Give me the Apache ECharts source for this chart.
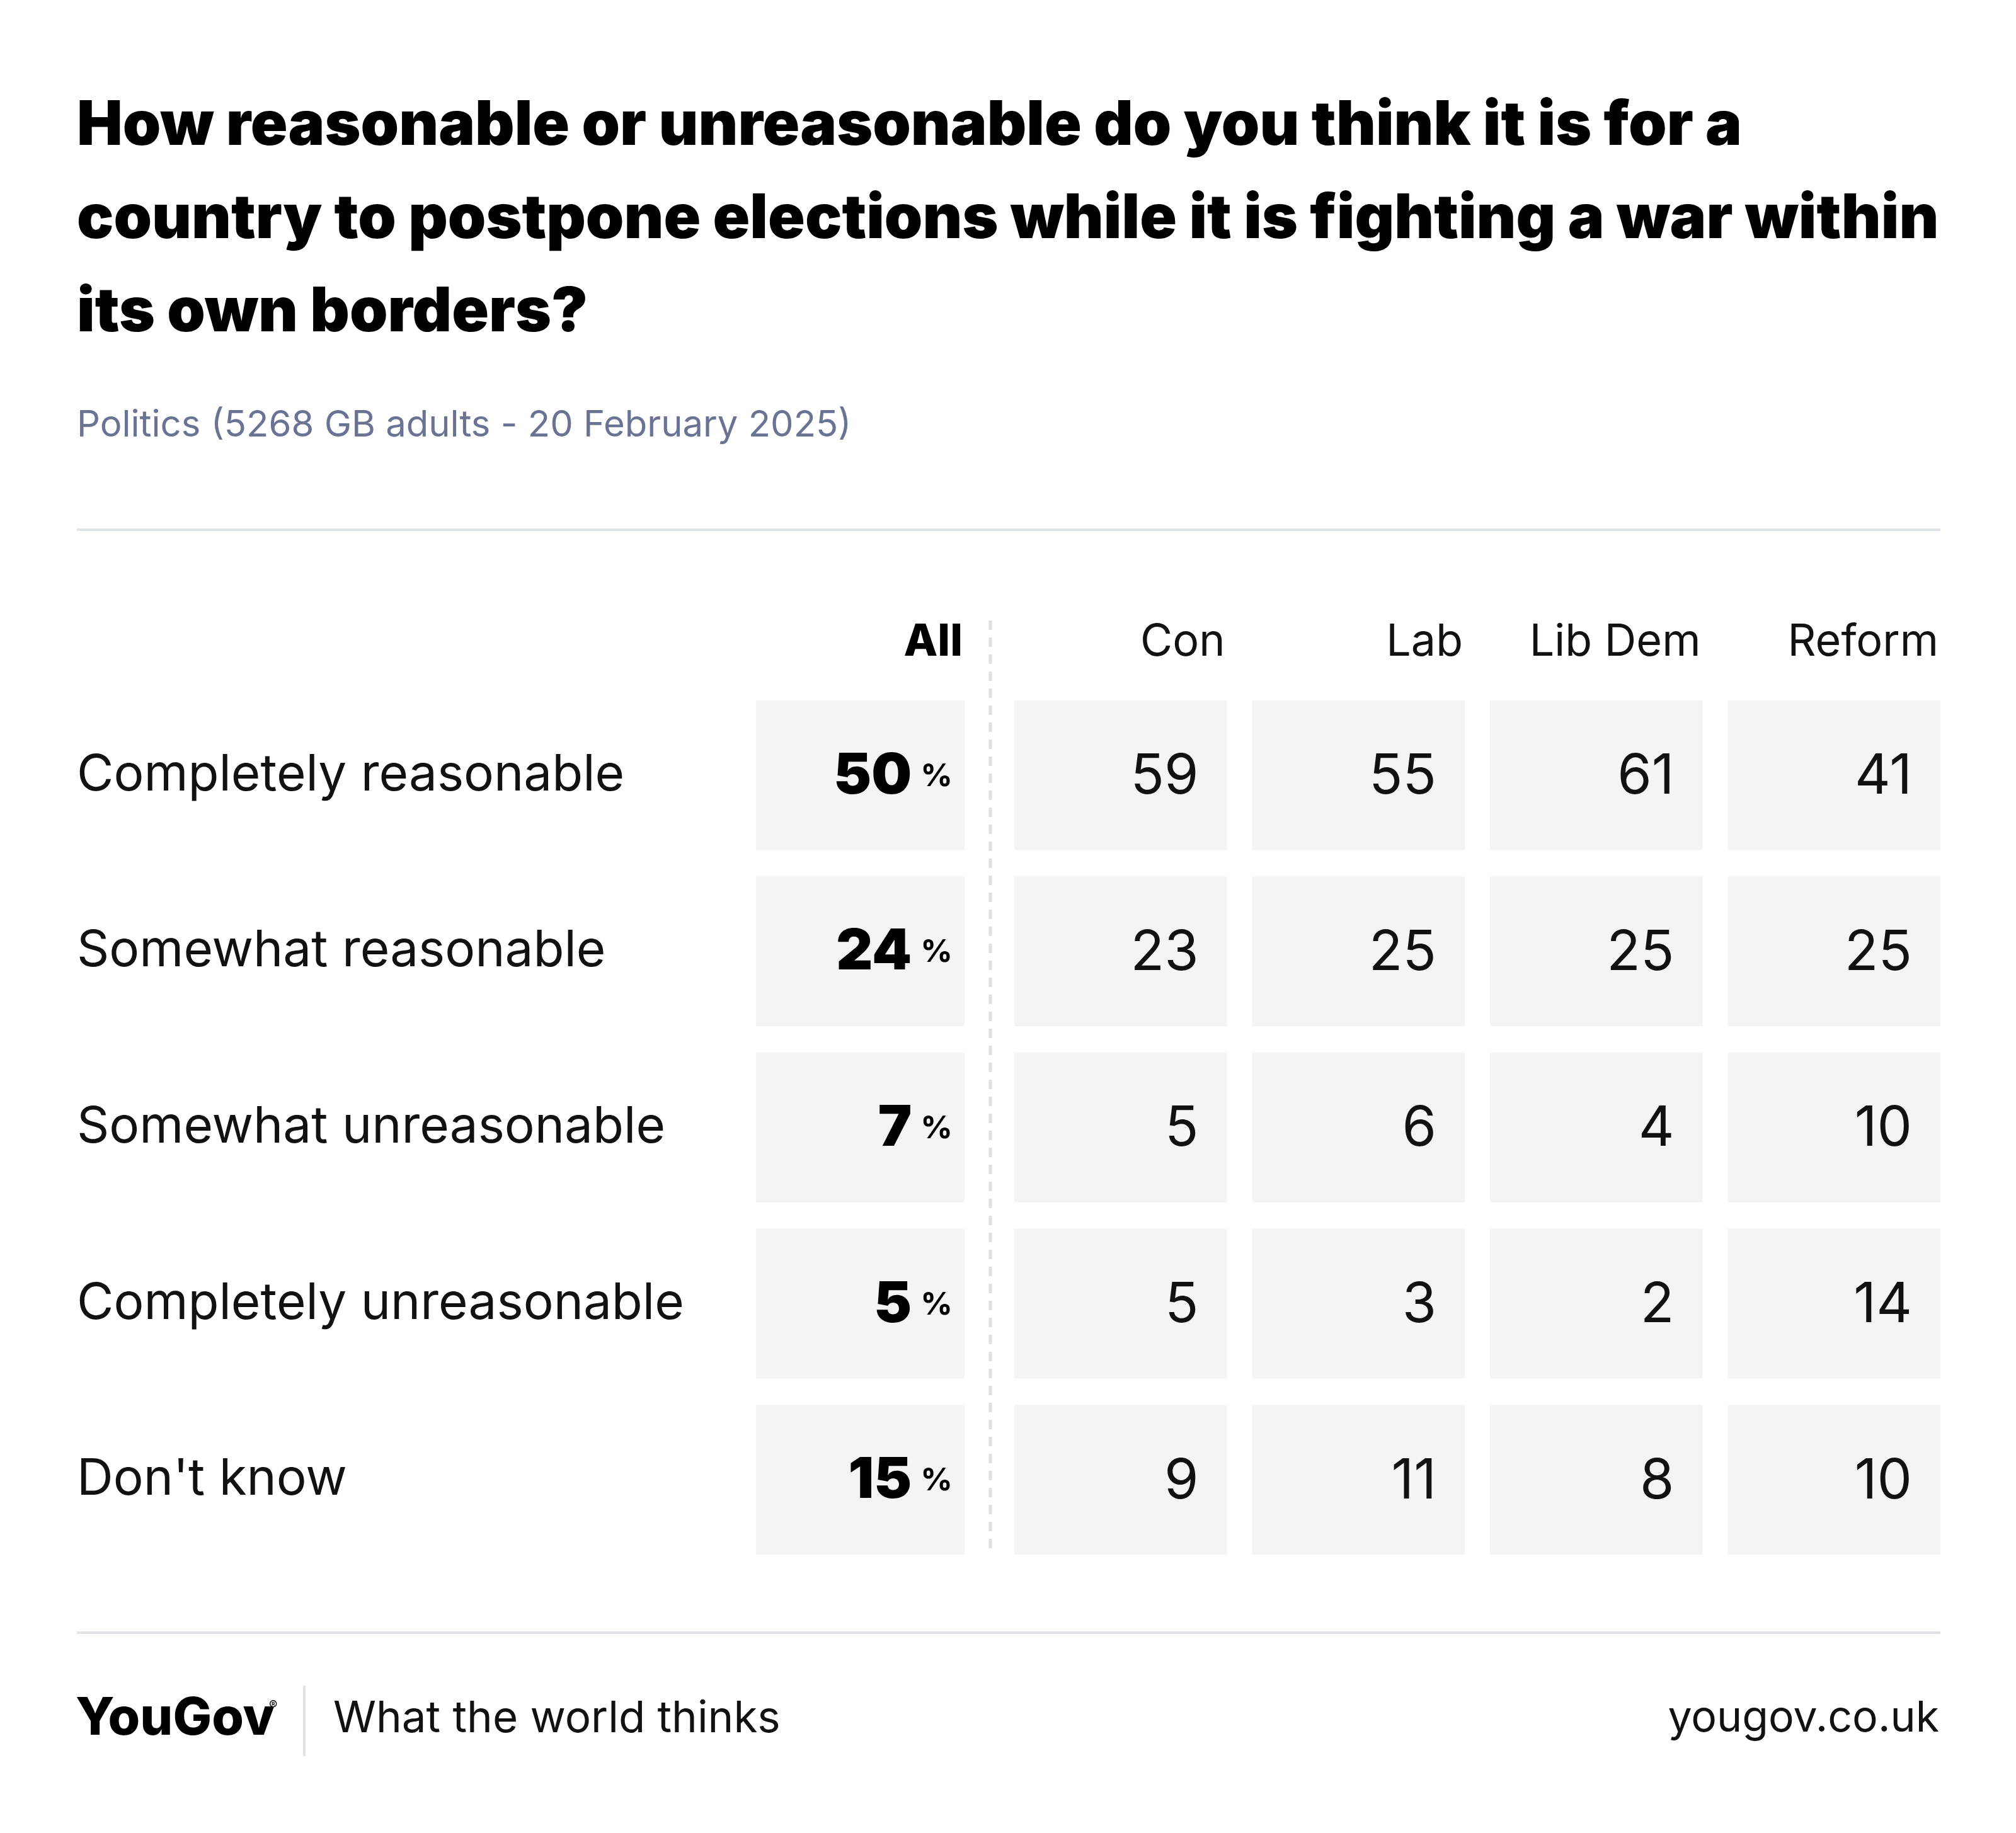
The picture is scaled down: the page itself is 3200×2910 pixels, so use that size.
<!DOCTYPE html>
<html><head><meta charset="utf-8">
<script src="https://cdn.jsdelivr.net/npm/echarts@6/dist/echarts.min.js"></script>
<style>html,body{margin:0;padding:0;background:#fff}#c{width:3200px;height:2910px}</style>
</head><body><div id="c"></div>
<script>
// ---- data ----
const TITLE_LINES = [
  'How reasonable or unreasonable do you think it is for a',
  'country to postpone elections while it is fighting a war within',
  'its own borders?'
];
const SUBTITLE = 'Politics (5268 GB adults - 20 February 2025)';
const ROWS = ['Completely reasonable', 'Somewhat reasonable', 'Somewhat unreasonable', 'Completely unreasonable', "Don't know"];
const ALL_LABEL = 'All';
const PARTIES = ['Con', 'Lab', 'Lib Dem', 'Reform'];
const ALL = [50, 24, 7, 5, 15];
const CON = [59, 23, 5, 5, 9];
const LAB = [55, 25, 6, 3, 11];
const LIBDEM = [61, 25, 4, 2, 8];
const REFORM = [41, 25, 10, 14, 10];
const FOOT_LEFT = 'What the world thinks';
const FOOT_RIGHT = 'yougov.co.uk';

// ---- build ----
const FONT = 'Inter, "Noto Sans", sans-serif';
const CELL_BG = '#f3f4f6';
const GAP_X = 40, GAP_Y = 42;
const partyCols = [CON, LAB, LIBDEM, REFORM];
const allData = ALL.map((v, r) => [0, r, v]);
const partyData = [];
partyCols.forEach((col, c) => col.forEach((v, r) => partyData.push([c, r, v])));

function cellBox(api) {
  const c = api.coord([api.value(0), api.value(1)]);
  const s = api.size([1, 1]);
  const w = s[0] - GAP_X, h = s[1] - GAP_Y;
  return { x: c[0] - w / 2, y: c[1] - h / 2, w, h, cy: c[1] };
}

function renderAll(params, api) {
  const b = cellBox(api);
  const kids = [
    { type: 'rect', shape: { x: b.x, y: b.y, width: b.w, height: b.h }, style: { fill: CELL_BG } },
    { type: 'text', style: {
        x: b.x + b.w - 19, y: b.cy + 2, align: 'right', verticalAlign: 'middle',
        text: '{n|' + api.value(2) + '}{p|%}',
        rich: {
          n: { fontFamily: FONT, fontWeight: 900, fontSize: 90, fill: '#000', verticalAlign: 'middle' },
          p: { fontFamily: FONT, fontWeight: 700, fontSize: 50, fill: '#000', padding: [0, 0, 0, 14], verticalAlign: 'middle' }
        }
      } }
  ];
  if (api.value(1) === 0) {
    kids.push({ type: 'text', style: { x: b.x + b.w - 3, y: b.y - 92, align: 'right', verticalAlign: 'middle',
      text: ALL_LABEL, fontFamily: FONT, fontWeight: 800, fontSize: 70, fill: '#000' } });
  }
  return { type: 'group', children: kids };
}

function renderParty(params, api) {
  const b = cellBox(api);
  const kids = [
    { type: 'rect', shape: { x: b.x, y: b.y, width: b.w, height: b.h }, style: { fill: CELL_BG } },
    { type: 'text', style: {
        x: b.x + b.w - 45, y: b.cy + 3, align: 'right', verticalAlign: 'middle',
        text: String(api.value(2)), fontFamily: FONT, fontWeight: 400, fontSize: 88, fill: '#111'
      } }
  ];
  if (api.value(1) === 0) {
    kids.push({ type: 'text', style: { x: b.x + b.w - 3, y: b.y - 92, align: 'right', verticalAlign: 'middle',
      text: PARTIES[api.value(0)], fontFamily: FONT, fontWeight: 400, fontSize: 70, fill: '#111' } });
  }
  return { type: 'group', children: kids };
}

const hidden = { axisLine: { show: false }, axisTick: { show: false }, splitLine: { show: false } };

const option = {
  backgroundColor: '#ffffff',
  animation: false,
  grid: [
    { left: 1180, top: 1091, width: 371, height: 1398 },
    { left: 1590, top: 1091, width: 1510, height: 1398 }
  ],
  xAxis: [
    Object.assign({ type: 'category', gridIndex: 0, data: [ALL_LABEL], axisLabel: { show: false } }, hidden),
    Object.assign({ type: 'category', gridIndex: 1, data: PARTIES, axisLabel: { show: false } }, hidden)
  ],
  yAxis: [
    Object.assign({ type: 'category', gridIndex: 0, data: ROWS, inverse: true,
      axisLabel: { align: 'left', margin: 1058, fontFamily: FONT, fontSize: 80, color: '#111', padding: [0, 0, -6, 0] } }, hidden),
    Object.assign({ type: 'category', gridIndex: 1, data: ROWS, inverse: true, axisLabel: { show: false } }, hidden)
  ],
  series: [
    { type: 'custom', xAxisIndex: 0, yAxisIndex: 0, data: allData, renderItem: renderAll, silent: true },
    { type: 'custom', xAxisIndex: 1, yAxisIndex: 1, data: partyData, renderItem: renderParty, silent: true }
  ],
  graphic: [
    ...TITLE_LINES.map((t, i) => ({ type: 'text', left: 122, top: 152 + i * 148, silent: true,
      style: { text: t, fontFamily: FONT, fontWeight: 900, fontSize: 97, fill: '#000' } })),
    { type: 'text', left: 122, top: 647, style: { text: SUBTITLE, fontFamily: FONT, fontSize: 58, fill: '#6a7393' } },
    { type: 'rect', shape: { x: 122, y: 839, width: 2958, height: 4 }, style: { fill: '#dfe2e8' } },
    { type: 'line', shape: { x1: 1572, y1: 985, x2: 1572, y2: 2469 }, style: { stroke: '#dde0e7', lineWidth: 5, lineDash: [15, 12] } },
    { type: 'rect', shape: { x: 122, y: 2590, width: 2958, height: 4 }, style: { fill: '#dfe2e8' } },
    { type: 'text', x: 120, y: 2729, style: { text: 'YouGov', fontFamily: FONT, fontWeight: 800, fontSize: 82, fill: '#000', verticalAlign: 'middle', align: 'left' } },
    { type: 'text', x: 427, y: 2708, style: { text: '®', fontFamily: FONT, fontSize: 20, fill: '#000', verticalAlign: 'middle' } },
    { type: 'rect', shape: { x: 481, y: 2676, width: 4, height: 112 }, style: { fill: '#dfe2e8' } },
    { type: 'text', x: 529, y: 2729, style: { text: FOOT_LEFT, fontFamily: FONT, fontSize: 69, fill: '#111', verticalAlign: 'middle' } },
    { type: 'text', x: 3078, y: 2729, style: { text: FOOT_RIGHT, fontFamily: FONT, fontSize: 68, fill: '#111', verticalAlign: 'middle', align: 'right' } }
  ]
};
const chart = echarts.init(document.getElementById('c'));
chart.setOption(option);
</script>
</body></html>
